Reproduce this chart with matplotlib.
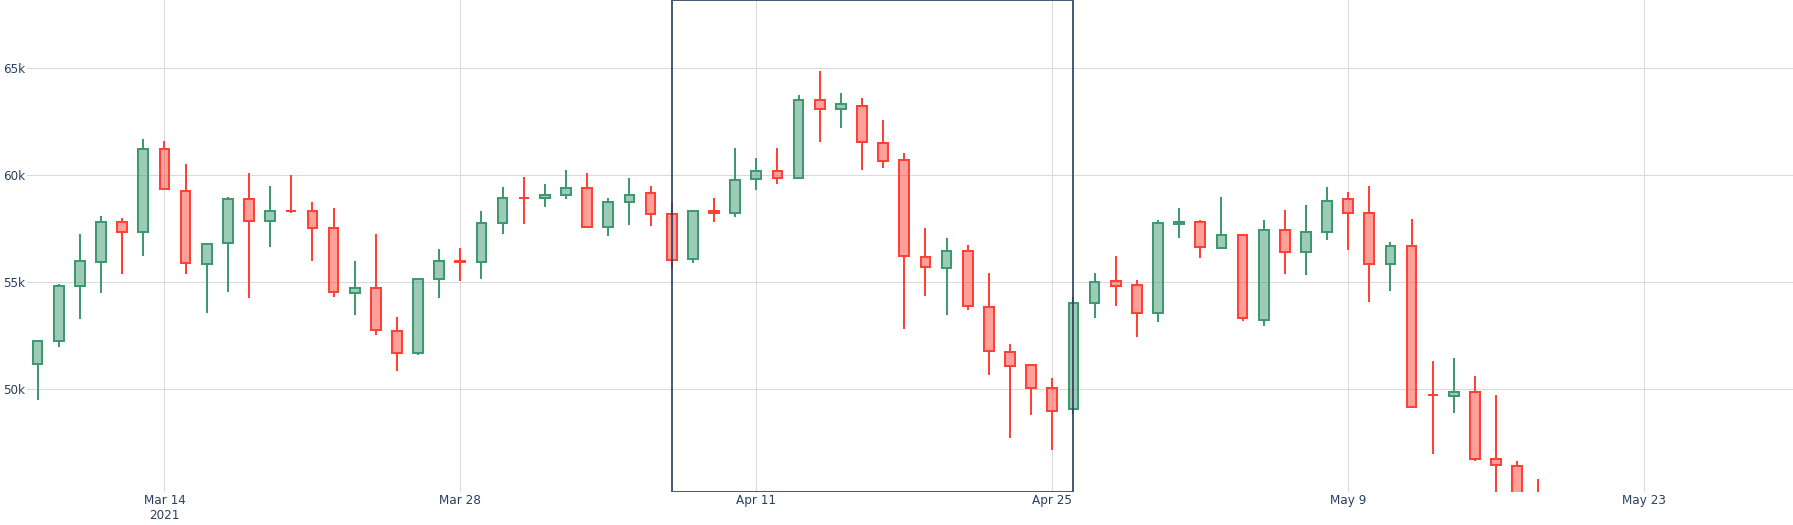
import pandas as pd
import matplotlib
matplotlib.use("Agg")
import matplotlib.pyplot as plt
import matplotlib.dates as mdates

# Daily BTC-USD candles (Mar 8 - May 18, 2021)
dates = pd.date_range("2021-03-08", "2021-05-18", freq="D")
opens = [51174, 52272, 54824, 55963, 57821, 57344, 61221, 59267, 55840, 56825,
         58893, 57851, 58332, 58309, 57517, 54511, 54710, 52726, 51683, 55138,
         55975, 55947, 57751, 58930, 58926, 59098, 59397, 57604, 58760, 59171,
         58186, 56099, 58326, 58253, 59846, 60175, 59890, 63523, 63075, 63258,
         61529, 60701, 56191, 55681, 56471, 53857, 51739, 51143, 50052, 49077,
         54030, 55036, 54858, 53568, 57714, 57826, 56620, 57214, 53252, 57441,
         56413, 57353, 58877, 58250, 55847, 56714, 49735, 49682, 49855, 46716,
         46415, 43488]
highs = [52314, 54904, 57258, 58091, 57997, 61683, 61597, 60540, 56833, 58969,
         60116, 59498, 60030, 58767, 58471, 55985, 57262, 53392, 55137, 56568,
         56611, 58343, 59447, 59930, 59587, 60267, 60110, 58913, 59891, 59479,
         58731, 58338, 58937, 61276, 60790, 61253, 63742, 64863, 63821, 63594,
         62572, 61057, 57520, 57062, 56757, 55410, 52120, 51167, 50506, 54288,
         55416, 56228, 55115, 57900, 58448, 57903, 58973, 57214, 57911, 58364,
         58606, 59464, 59210, 59519, 56872, 57939, 51330, 51438, 50639, 49720,
         46623, 45812]
lows = [49506, 51981, 53290, 54484, 55376, 56217, 59302, 55393, 53555, 54528,
        54253, 56643, 58220, 56005, 54288, 53470, 52515, 50856, 51579, 54242,
        55071, 55139, 57251, 57726, 58506, 58869, 57603, 57168, 57694, 57646,
        55604, 55879, 57808, 58039, 59289, 59589, 59870, 61554, 62208, 60223,
        60361, 52829, 54368, 53448, 53695, 50651, 47714, 48805, 47159, 48852,
        53319, 53887, 52418, 53129, 57052, 56141, 56590, 53191, 52970, 55382,
        55321, 56975, 56483, 54071, 54608, 49150, 46980, 48868, 46665, 43963,
        42207, 42367]
closes = [52246, 54824, 56008, 57805, 57332, 61243, 59339, 55907, 56804, 58870,
          57858, 58346, 58313, 57524, 54529, 54738, 52774, 51704, 55137, 55974,
          55947, 57750, 58918, 58918, 59095, 59384, 57603, 58758, 59057, 58192,
          56048, 58323, 58245, 59793, 60204, 59893, 63503, 63110, 63314, 61572,
          60684, 56216, 55724, 56473, 53906, 51763, 51093, 50050, 49004, 54021,
          55033, 54824, 53555, 57750, 57828, 56631, 57200, 53333, 57424, 56397,
          57356, 58804, 58232, 55860, 56704, 49150, 49716, 49880, 46761, 46456,
          43538, 42910]

# selected window drawn as a box on the chart
sel_start = pd.Timestamp("2021-04-07")
sel_end = pd.Timestamp("2021-04-26")

y_ticks = [50000, 55000, 60000, 65000]
y_labels = ["50k", "55k", "60k", "65k"]
x_ticks = pd.to_datetime(["2021-03-14", "2021-03-28", "2021-04-11",
                          "2021-04-25", "2021-05-09", "2021-05-23"])
x_labels = ["Mar 14\n2021", "Mar 28", "Apr 11", "Apr 25", "May 9", "May 23"]

up_col = "#3D9970"
down_col = "#FF4136"
text_col = "#2a3f5f"
px = 0.72  # one pixel in points at dpi 100

fig = plt.figure(figsize=(17.93, 5.25), dpi=100)
ax = fig.add_axes([27 / 1793, 33.3 / 525, 1 - 27 / 1793, 1 - 33.3 / 525])

x = mdates.date2num(dates)
for i in range(len(x)):
    o, h, l, c = opens[i], highs[i], lows[i], closes[i]
    col = up_col if c > o else down_col
    top = max(o, c)
    bot = min(o, c)
    # wicks outside the body only
    ax.vlines(x[i], top, h, color=col, linewidth=2 * px, zorder=3)
    ax.vlines(x[i], l, bot, color=col, linewidth=2 * px, zorder=3)
    ax.bar(x[i], top - bot, bottom=bot, width=0.46,
           facecolor=matplotlib.colors.to_rgba(col, 0.5),
           edgecolor=col, linewidth=2 * px, zorder=4)

ax.axvspan(mdates.date2num(sel_start), mdates.date2num(sel_end),
           ymin=0, ymax=1, fill=False, edgecolor=text_col,
           alpha=0.85, linewidth=2 * px, zorder=6)

ax.set_xlim(mdates.date2num(pd.Timestamp("2021-03-07 12:00")),
            mdates.date2num(pd.Timestamp("2021-05-30 01:00")))
ax.set_ylim(45210, 68190)

ax.set_yticks(y_ticks)
ax.set_yticklabels(y_labels)
ax.set_xticks(mdates.date2num(x_ticks))
ax.set_xticklabels(x_labels)

ax.grid(True, color="#D9D9D9", linewidth=1 * px)
ax.set_axisbelow(True)
for s in ax.spines.values():
    s.set_visible(False)
ax.tick_params(axis="both", length=0, labelsize=12 * px, labelcolor=text_col)
ax.tick_params(axis="y", pad=2 * px)
ax.tick_params(axis="x", pad=2.5 * px)

fig.savefig("out.png", dpi=100)
